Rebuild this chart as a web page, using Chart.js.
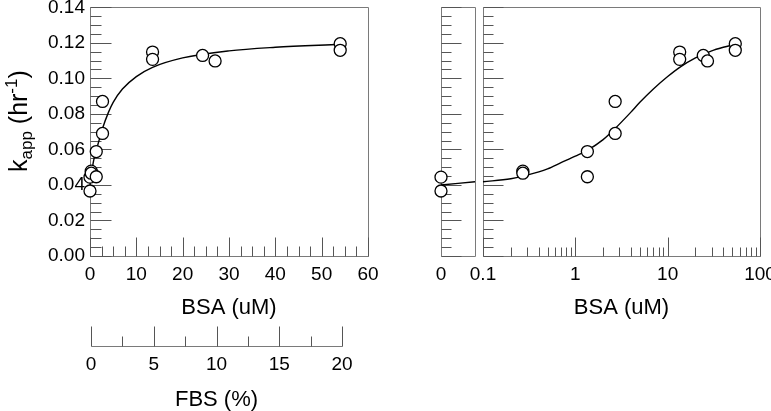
<!DOCTYPE html>
<html>
<head>
<meta charset="utf-8">
<script src="https://cdn.jsdelivr.net/npm/chart.js@4.4.1/dist/chart.umd.min.js"></script>
<style>
html,body{margin:0;padding:0;background:#fff;}
#wrap{position:relative;width:771px;height:411px;overflow:hidden;background:#fff;}
canvas{position:absolute;left:0;top:0;}
</style>
</head>
<body>
<div id="wrap">
<canvas id="cL" width="771" height="411"></canvas>
<canvas id="cB" width="771" height="411"></canvas>
<canvas id="cR" width="771" height="411"></canvas>
<canvas id="cF" width="771" height="411"></canvas>
</div>
<script>
// ---- data ----
const bsa  = [0, 0, 0.27, 0.27, 1.35, 1.35, 2.7, 2.7, 13.5, 13.5, 24.3, 27, 54, 54];
const kapp = [0.0444, 0.0366, 0.0478, 0.0466, 0.0588, 0.0446, 0.0870, 0.0690, 0.1148, 0.1107, 0.1129, 0.1098, 0.1195, 0.1158];

// fitted curve
const curveBsa = [0, 0.1, 0.2, 0.3, 0.5, 0.7, 1, 1.35, 2, 2.7, 4, 5, 7, 10, 13.5, 20, 30, 40, 54];
const curveK   = [0.0400, 0.0418, 0.0435, 0.0455, 0.0490, 0.0525, 0.0562, 0.0595, 0.0655, 0.0718, 0.0810, 0.0865, 0.0940, 0.1010, 0.1062, 0.1115, 0.1155, 0.1175, 0.1192];

// tick labels
const yTicks      = [0, 0.02, 0.04, 0.06, 0.08, 0.10, 0.12, 0.14];
const bsaLinTicks = [0, 10, 20, 30, 40, 50, 60];
const bsaLogTicks = [0.1, 1, 10, 100];
const breakTicks  = [0];
const fbsTicks    = [0, 5, 10, 15, 20];

// minor tick positions
const yMinor = [];
for (let i = 1; i < 28; i++) { if (i % 4) yMinor.push(i * 0.005); }
const bsaLinMinor = [];
for (let i = 1; i < 24; i++) { if (i % 4) bsaLinMinor.push(i * 2.5); }
const bsaLogMinor = [];
[0.1, 1, 10].forEach(d => { for (let m = 2; m <= 9; m++) bsaLogMinor.push(+(d * m).toPrecision(3)); });
const fbsMinor = [2.5, 7.5, 12.5, 17.5];

const FONT = "'Liberation Sans', Arial, Helvetica, sans-serif";
const TXT = '#000';
const FRAME = '#7a7a7a';
const TICK = '#555';

const pts = (xs, ys, f) => xs.map((x, i) => ({x, y: ys[i]})).filter(p => !f || f(p.x));

// plugin: frames + inward major/minor tick marks at scale positions
const frameTicks = {
  id: 'frameTicks',
  beforeDatasetsDraw(chart, args, o) {
    if (!o || !o.on) return;
    const {ctx, chartArea: a} = chart;
    const xs = chart.scales.x, ys = chart.scales.y;
    const L = Math.round(a.left) + 0.5, R = Math.round(a.right) + 0.5;
    const T = Math.round(a.top) + 0.5, B = Math.round(a.bottom) + 0.5;
    ctx.save();
    ctx.lineWidth = 1;
    ctx.strokeStyle = FRAME;
    ctx.beginPath();
    if (o.box) ctx.rect(L, T, R - L, B - T);
    else { ctx.moveTo(L, B); ctx.lineTo(R, B); }
    ctx.stroke();
    ctx.strokeStyle = TICK;
    ctx.beginPath();
    const vx = (vals, len) => (vals || []).forEach(v => {
      const x = Math.round(xs.getPixelForValue(v)) + 0.5;
      ctx.moveTo(x, B); ctx.lineTo(x, B - len);
    });
    const vy = (vals, len) => (vals || []).forEach(v => {
      const y = Math.round(ys.getPixelForValue(v)) + 0.5;
      ctx.moveTo(L, y); ctx.lineTo(L + len, y);
    });
    vx(o.xMajor, o.xMajorLen); vx(o.xMinor, o.xMinorLen);
    vy(o.yMajor, o.yMajorLen); vy(o.yMinor, o.yMinorLen);
    ctx.stroke();
    ctx.restore();
  }
};

// plugin: y-axis title with subscript / superscript
const yTitle = {
  id: 'yTitle',
  afterDraw(chart, args, o) {
    if (!o || !o.on) return;
    const ctx = chart.ctx;
    ctx.save();
    ctx.translate(o.x, o.y);
    ctx.rotate(-Math.PI / 2);
    ctx.fillStyle = TXT;
    ctx.textBaseline = 'alphabetic';
    ctx.textAlign = 'left';
    let cx = 0;
    const part = (t, size, dy) => {
      ctx.font = size + 'px ' + FONT;
      ctx.fillText(t, cx, dy);
      cx += ctx.measureText(t).width;
    };
    part('k', 25, 0);
    part('app', 17, 5);
    part(' (hr', 25, 0);
    part('-1', 17, -10);
    part(')', 25, 0);
    ctx.restore();
  }
};

const tickFont = {family: FONT, size: 19};
const titleFont = {family: FONT, size: 22};

function xScale(type, min, max, ticksArr, height, titleText, labelFn) {
  return {
    type, min, max,
    afterBuildTicks: s => { s.ticks = ticksArr.map(v => ({value: v})); },
    afterFit: s => { s.height = height; s.paddingLeft = 0; s.paddingRight = 0; },
    grid: {display: false, drawTicks: false},
    border: {display: false},
    ticks: {font: tickFont, color: TXT, padding: 7, maxRotation: 0, minRotation: 0, autoSkip: false,
            callback: labelFn || (v => String(v))},
    title: titleText ? {display: true, text: titleText, font: titleFont, color: TXT, padding: {top: 0, bottom: 0}} : {display: false}
  };
}

function yHidden() {
  return {type: 'linear', min: 0, max: 0.14, display: false};
}

const scatterDs = (data) => ({
  type: 'scatter', data, order: 1, clip: false, showLine: false,
  pointRadius: 6, pointHoverRadius: 6, pointBorderWidth: 1.3,
  pointBorderColor: '#000', pointBackgroundColor: '#fff'
});
const curveDs = (data) => ({
  type: 'line', data, order: 2, clip: false,
  borderColor: '#000', borderWidth: 1.4, pointRadius: 0, fill: false,
  cubicInterpolationMode: 'monotone'
});

const common = {
  responsive: false, animation: false, events: [], devicePixelRatio: 1,
};

// ---- left panel: linear BSA ----
new Chart(document.getElementById('cL'), {
  type: 'scatter',
  data: {datasets: [
    curveDs(pts(curveBsa, curveK)),
    scatterDs(pts(bsa, kapp))
  ]},
  options: Object.assign({}, common, {
    layout: {padding: {left: 0, right: 403, top: 6, bottom: 90}},
    plugins: {
      legend: {display: false}, tooltip: {enabled: false},
      frameTicks: {on: true, box: true,
        xMajor: bsaLinTicks, xMajorLen: 19, xMinor: bsaLinMinor, xMinorLen: 10,
        yMajor: yTicks, yMajorLen: 21, yMinor: yMinor, yMinorLen: 11},
      yTitle: {on: true, x: 27, y: 172}
    },
    scales: {
      x: xScale('linear', 0, 60, bsaLinTicks, 65, 'BSA (uM)'),
      y: {
        type: 'linear', min: 0, max: 0.14,
        afterBuildTicks: s => { s.ticks = yTicks.map(v => ({value: v})); },
        afterFit: s => { s.width = 90; s.paddingTop = 0; s.paddingBottom = 0; },
        grid: {display: false, drawTicks: false},
        border: {display: false},
        ticks: {font: tickFont, color: TXT, padding: 5, callback: v => Number(v).toFixed(2)}
      }
    }
  }),
  plugins: [frameTicks, yTitle]
});

// ---- break panel: BSA = 0 ----
new Chart(document.getElementById('cB'), {
  type: 'scatter',
  data: {datasets: [
    curveDs(pts(curveBsa, curveK, x => x <= 0.1)),
    scatterDs(pts(bsa, kapp, x => x === 0))
  ]},
  options: Object.assign({}, common, {
    layout: {padding: {left: 441, right: 296, top: 6, bottom: 90}},
    plugins: {
      legend: {display: false}, tooltip: {enabled: false},
      frameTicks: {on: true, box: true, yMajor: yTicks, yMajorLen: 20, yMinor: yMinor, yMinorLen: 10}
    },
    scales: {
      x: xScale('linear', 0, 0.1, breakTicks, 65, null),
      y: yHidden()
    }
  }),
  plugins: [frameTicks]
});

// ---- right panel: log BSA ----
new Chart(document.getElementById('cR'), {
  type: 'scatter',
  data: {datasets: [
    curveDs(pts(curveBsa, curveK, x => x >= 0.1)),
    scatterDs(pts(bsa, kapp, x => x > 0))
  ]},
  options: Object.assign({}, common, {
    layout: {padding: {left: 483, right: 11, top: 6, bottom: 90}},
    plugins: {
      legend: {display: false}, tooltip: {enabled: false},
      frameTicks: {on: true, box: true,
        xMajor: bsaLogTicks, xMajorLen: 19, xMinor: bsaLogMinor, xMinorLen: 9,
        yMajor: yTicks, yMajorLen: 20, yMinor: yMinor, yMinorLen: 10}
    },
    scales: {
      x: xScale('logarithmic', 0.1, 100, bsaLogTicks, 65, 'BSA (uM)', v => String(v)),
      y: yHidden()
    }
  }),
  plugins: [frameTicks]
});

// ---- FBS secondary axis ----
new Chart(document.getElementById('cF'), {
  type: 'scatter',
  data: {datasets: []},
  options: Object.assign({}, common, {
    layout: {padding: {left: 91, right: 429, top: 300, bottom: -2}},
    plugins: {
      legend: {display: false}, tooltip: {enabled: false},
      frameTicks: {on: true, box: false,
        xMajor: fbsTicks, xMajorLen: 20, xMinor: fbsMinor, xMinorLen: 10}
    },
    scales: {
      x: Object.assign(xScale('linear', 0, 20, fbsTicks, 67, 'FBS (%)'), {}),
      y: {type: 'linear', min: 0, max: 1, display: false}
    }
  }),
  plugins: [frameTicks]
});
</script>
</body>
</html>
